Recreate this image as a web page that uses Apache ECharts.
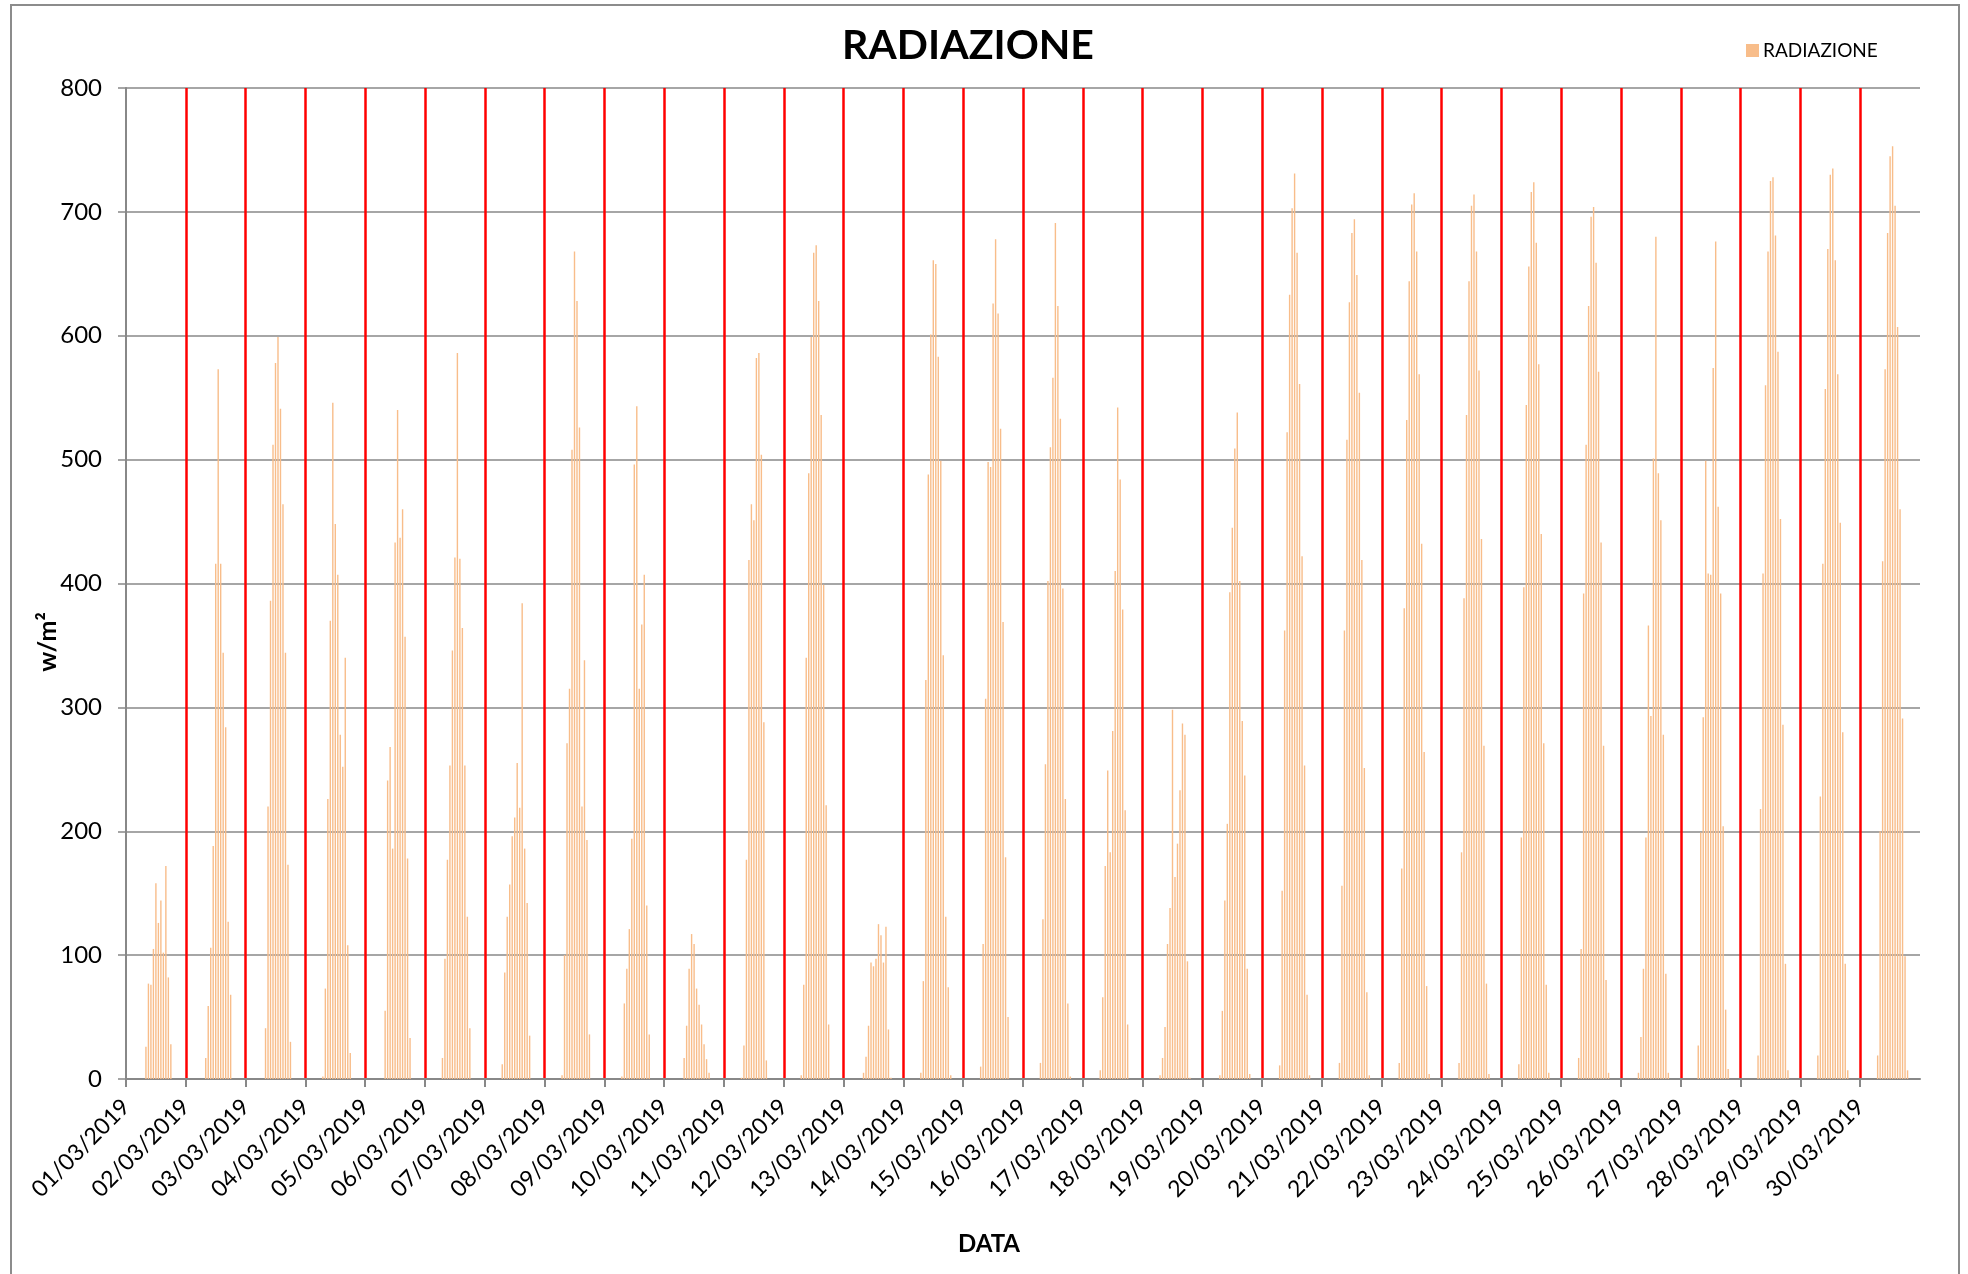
<!DOCTYPE html>
<html>
<head>
<meta charset="utf-8">
<script src="https://cdn.jsdelivr.net/npm/echarts@6/dist/echarts.min.js"></script>
<style>
  html, body { margin: 0; padding: 0; background: #fff; }
  #chart { width: 1968px; height: 1274px; }
</style>
</head>
<body>
<div id="chart"></div>
<script>
// giorni del mese (marzo 2019)
const giorni = [
  "01/03/2019", "02/03/2019", "03/03/2019", "04/03/2019", "05/03/2019",
  "06/03/2019", "07/03/2019", "08/03/2019", "09/03/2019", "10/03/2019",
  "11/03/2019", "12/03/2019", "13/03/2019", "14/03/2019", "15/03/2019",
  "16/03/2019", "17/03/2019", "18/03/2019", "19/03/2019", "20/03/2019",
  "21/03/2019", "22/03/2019", "23/03/2019", "24/03/2019", "25/03/2019",
  "26/03/2019", "27/03/2019", "28/03/2019", "29/03/2019", "30/03/2019"
];

// ora della prima misura non nulla di ogni giorno
const oraInizio = [8, 8, 8, 7, 8, 7, 7, 7, 7, 8, 7, 7, 8, 7, 7, 7, 7, 7, 7, 7, 7, 7, 7, 7, 7, 7, 7, 7, 7, 7];

// radiazione oraria (w/m²), una riga per giorno
const radiazione = [
  [26, 77, 76, 105, 158, 126, 144, 102, 172, 82, 28],
  [17, 59, 106, 188, 416, 573, 416, 344, 284, 127, 68],
  [41, 220, 386, 512, 578, 599, 541, 464, 344, 173, 30],
  [2, 73, 226, 370, 546, 448, 407, 278, 252, 340, 108, 21],
  [55, 241, 268, 186, 433, 540, 437, 460, 357, 178, 33],
  [17, 97, 177, 253, 346, 421, 586, 420, 364, 253, 131, 41],
  [12, 86, 131, 157, 196, 211, 255, 219, 384, 186, 142, 35],
  [3, 100, 271, 315, 508, 668, 628, 526, 220, 338, 193, 36],
  [2, 61, 89, 121, 194, 496, 543, 315, 367, 407, 140, 36],
  [17, 43, 89, 117, 109, 73, 60, 44, 28, 16, 5],
  [1, 27, 177, 419, 464, 451, 582, 586, 504, 288, 15],
  [3, 76, 340, 489, 599, 667, 673, 628, 536, 399, 221, 44],
  [5, 18, 43, 94, 91, 97, 125, 116, 94, 123, 40, 1],
  [5, 79, 322, 488, 601, 661, 658, 583, 499, 342, 131, 74, 3],
  [10, 109, 307, 498, 494, 626, 678, 618, 525, 369, 179, 50],
  [13, 129, 254, 402, 510, 566, 691, 624, 533, 396, 226, 61, 2],
  [7, 66, 172, 249, 183, 281, 410, 542, 484, 379, 217, 44],
  [3, 17, 42, 109, 138, 298, 163, 190, 233, 287, 278, 95, 1],
  [3, 55, 144, 206, 393, 445, 509, 538, 402, 289, 245, 89, 4],
  [11, 152, 362, 522, 633, 703, 731, 667, 561, 422, 253, 68, 3],
  [13, 156, 362, 516, 627, 683, 694, 649, 554, 419, 251, 70, 3],
  [13, 170, 380, 532, 644, 706, 715, 668, 569, 432, 264, 75, 4],
  [13, 183, 388, 536, 644, 705, 714, 668, 572, 436, 269, 77, 4],
  [12, 195, 397, 544, 656, 716, 724, 675, 577, 440, 271, 76, 5],
  [17, 105, 392, 512, 624, 696, 704, 659, 571, 433, 269, 80, 5],
  [5, 34, 89, 195, 366, 293, 501, 680, 489, 451, 278, 85, 5],
  [27, 199, 292, 499, 408, 407, 574, 676, 462, 392, 204, 56, 8],
  [19, 218, 408, 560, 668, 725, 728, 681, 587, 452, 286, 93, 7],
  [19, 228, 416, 557, 670, 730, 735, 661, 569, 449, 280, 93, 7],
  [19, 200, 418, 573, 683, 745, 753, 705, 607, 460, 291, 99, 7]
];

const yTicks = [0, 100, 200, 300, 400, 500, 600, 700, 800];

// categorie orarie: 30 giorni x 24 ore + mezzanotte finale
const categorie = [];
const valori = [];
giorni.forEach(function (g, d) {
  for (let h = 0; h < 24; h++) {
    categorie.push(g + " " + (h < 10 ? "0" + h : h) + ":00");
    const k = h - oraInizio[d];
    valori.push(k >= 0 && k < radiazione[d].length ? radiazione[d][k] : null);
  }
});
categorie.push("31/03/2019 00:00");
valori.push(null);

const nOre = categorie.length - 1;
const isGiorno = function (i) { return i % 24 === 0 && i < nOre; };

const chart = echarts.init(document.getElementById("chart"));

const option = {
  animation: false,
  backgroundColor: "#fff",
  title: {
    text: "RADIAZIONE",
    left: 837,
    top: 20,
    textStyle: { fontFamily: "Lato", fontWeight: "bold", fontSize: 41, color: "#000" }
  },
  legend: {
    data: ["RADIAZIONE"],
    left: 1741,
    top: 36,
    icon: "rect",
    itemWidth: 13,
    itemHeight: 13,
    itemGap: 5,
    textStyle: { fontFamily: "Lato", fontSize: 19, color: "#000", padding: [0, 0, 0, -1] }
  },
  grid: { left: 126, right: 48, top: 88, bottom: 195 },
  xAxis: {
    type: "category",
    data: categorie,
    boundaryGap: false,
    axisLine: { lineStyle: { color: "#888", width: 2 } },
    axisTick: {
      interval: function (i) { return isGiorno(i); },
      length: 8,
      lineStyle: { color: "#888", width: 2 }
    },
    axisLabel: {
      interval: function (i) { return isGiorno(i); },
      rotate: 45,
      margin: 24,
      fontFamily: "Lato",
      fontSize: 23,
      color: "#000",
      formatter: function (v) { return v.slice(0, 10); }
    },
    splitLine: {
      show: true,
      interval: function (i) { return i > 0 && isGiorno(i); },
      lineStyle: { color: "#ff0000", width: 2.5 }
    }
  },
  yAxis: {
    type: "value",
    min: yTicks[0],
    max: yTicks[yTicks.length - 1],
    interval: 100,
    axisLine: { show: true, lineStyle: { color: "#888", width: 2 } },
    axisTick: { show: true, length: 8, lineStyle: { color: "#888", width: 1.5 } },
    axisLabel: { margin: 24, fontFamily: "Lato", fontSize: 24, color: "#000" },
    splitLine: { lineStyle: { color: "#888", width: 1.5 } }
  },
  series: [
    {
      name: "RADIAZIONE",
      type: "bar",
      data: valori,
      barWidth: 1.4,
      itemStyle: { color: "#f8bd8a" }
    }
  ],
  graphic: [
    {
      type: "rect",
      shape: { x: 11, y: 5, width: 1948, height: 1300 },
      style: { fill: null, stroke: "#8c8c8c", lineWidth: 2 },
      silent: true
    },
    {
      type: "text",
      x: 48,
      y: 642,
      rotation: Math.PI / 2,
      style: {
        text: "w/m²",
        font: "bold 25px Lato",
        fill: "#000",
        textAlign: "center",
        textVerticalAlign: "middle"
      }
    },
    {
      type: "text",
      x: 989,
      y: 1244,
      style: {
        text: "DATA",
        font: "bold 24px Lato",
        fill: "#000",
        textAlign: "center",
        textVerticalAlign: "middle"
      }
    }
  ]
};

chart.setOption(option);
</script>
</body>
</html>
